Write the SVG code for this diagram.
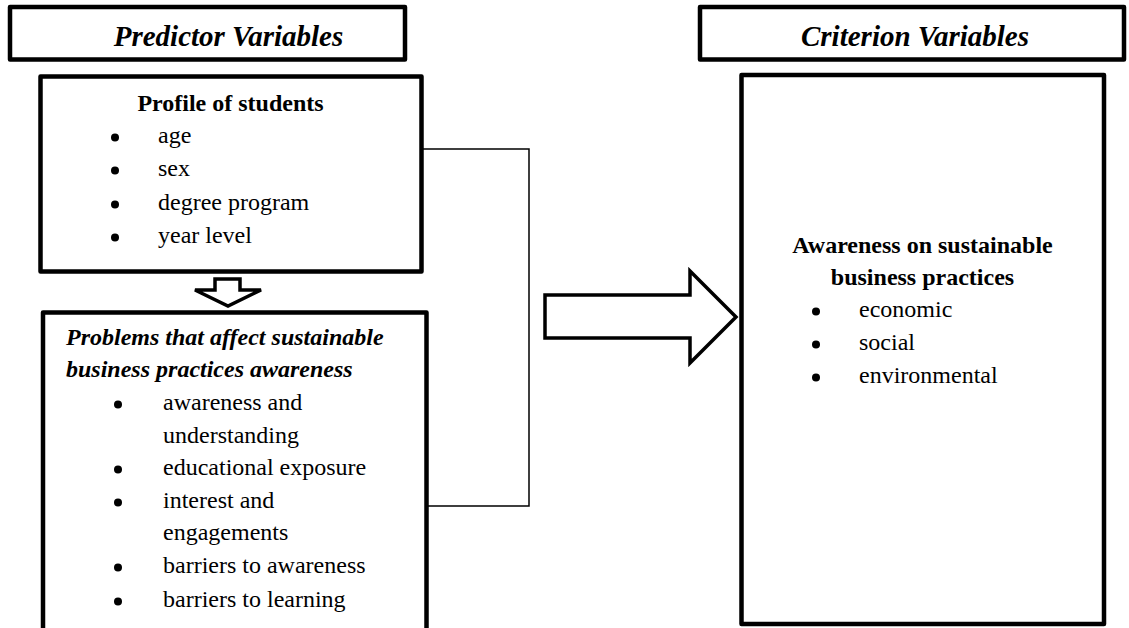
<svg xmlns="http://www.w3.org/2000/svg" width="1129" height="628" viewBox="0 0 1129 628">
<style>
.box{fill:#fff;stroke:#000;stroke-width:4.5;stroke-linejoin:round}
.arr{fill:#fff;stroke:#000;stroke-width:3.5;stroke-linejoin:miter}
.con{fill:none;stroke:#000;stroke-width:1.5}
.dot{fill:#000}
text{font-family:"Liberation Serif","Times New Roman",serif;fill:#000}
.hd{font-size:29px;font-weight:bold;font-style:italic;text-anchor:middle}
.tb{font-size:24px;font-weight:bold}
.tbi{font-size:24px;font-weight:bold;font-style:italic}
.t{font-size:24px}
</style>
<rect width="1129" height="628" fill="#fff"/>
<g id="connectors">
<polyline class="con" points="423,149 529,149 529,506 422,506"/>
<polygon class="arr" points="545,295 690,295 690,271 736,317 690,363 690,338 545,338"/>
<polygon class="arr" points="215,279 240,279 240,290 261,290 228,306 195,290 215,290"/>
</g>
<g id="predictor-header">
<rect class="box" x="10" y="7" width="395" height="52.5"/>
<text class="hd" x="228.5" y="46">Predictor Variables</text>
</g>
<g id="criterion-header">
<rect class="box" x="700" y="7" width="424" height="52.5"/>
<text class="hd" x="915" y="46">Criterion Variables</text>
</g>
<g id="profile">
<rect class="box" x="40.5" y="76.5" width="381" height="195"/>
<text class="tb" x="230.5" y="111" text-anchor="middle">Profile of students</text>
<circle class="dot" cx="115" cy="137.5" r="4"/><text class="t" x="158" y="143">age</text>
<circle class="dot" cx="115" cy="170.5" r="4"/><text class="t" x="158" y="176">sex</text>
<circle class="dot" cx="115" cy="204.5" r="4"/><text class="t" x="158" y="210">degree program</text>
<circle class="dot" cx="115" cy="237.5" r="4"/><text class="t" x="158" y="243">year level</text>
</g>
<g id="problems">
<rect class="box" x="43" y="312.5" width="383.5" height="330"/>
<text class="tbi" x="66" y="345">Problems that affect sustainable</text>
<text class="tbi" x="66" y="377">business practices awareness</text>
<circle class="dot" cx="118" cy="404.5" r="4"/><text class="t" x="163" y="410">awareness and</text>
<text class="t" x="163" y="443">understanding</text>
<circle class="dot" cx="118" cy="469.5" r="4"/><text class="t" x="163" y="475">educational exposure</text>
<circle class="dot" cx="118" cy="502.5" r="4"/><text class="t" x="163" y="508">interest and</text>
<text class="t" x="163" y="540">engagements</text>
<circle class="dot" cx="118" cy="567.5" r="4"/><text class="t" x="163" y="573">barriers to awareness</text>
<circle class="dot" cx="118" cy="601.5" r="4"/><text class="t" x="163" y="607">barriers to learning</text>
</g>
<g id="criterion">
<rect class="box" x="741.5" y="75" width="362.5" height="549"/>
<text class="tb" x="922.5" y="253" text-anchor="middle">Awareness on sustainable</text>
<text class="tb" x="922.5" y="285" text-anchor="middle">business practices</text>
<circle class="dot" cx="816" cy="311.5" r="4"/><text class="t" x="859" y="317">economic</text>
<circle class="dot" cx="816" cy="344.5" r="4"/><text class="t" x="859" y="350">social</text>
<circle class="dot" cx="816" cy="377.5" r="4"/><text class="t" x="859" y="383">environmental</text>
</g>
</svg>
